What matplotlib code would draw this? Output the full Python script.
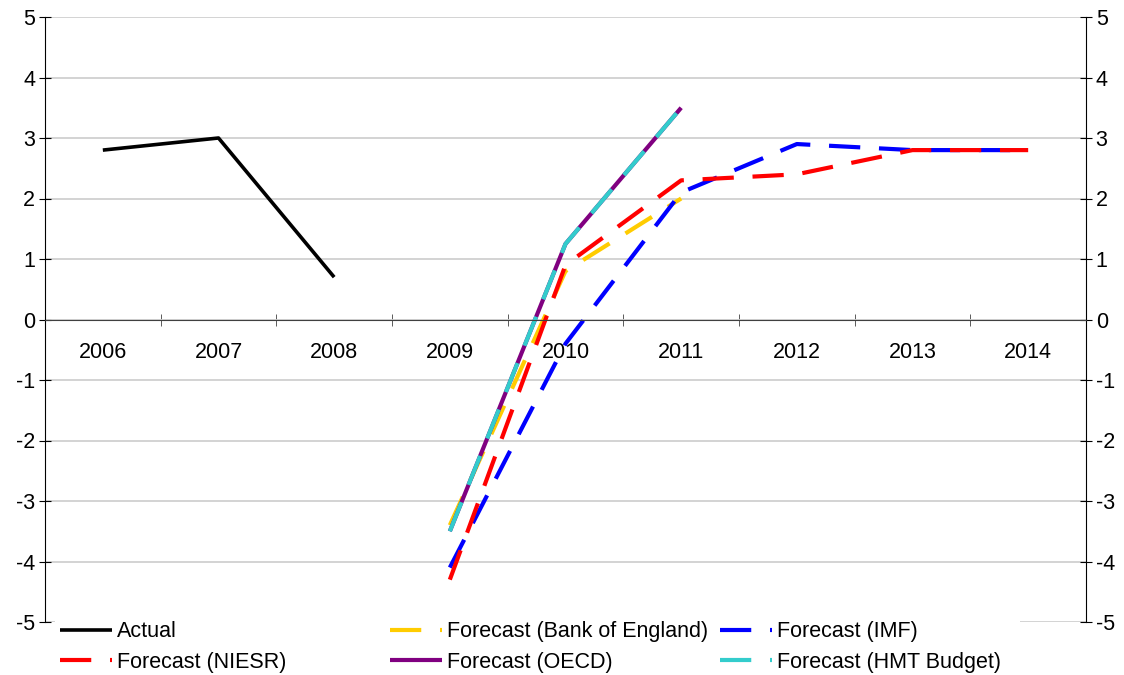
import numpy as np
import matplotlib.pyplot as plt
from matplotlib.patches import Rectangle

plt.rcParams['font.family'] = ['Liberation Sans', 'DejaVu Sans']

# GDP growth, % per year
years = ['2006', '2007', '2008', '2009', '2010', '2011', '2012', '2013', '2014']
actual = [2.8, 3.0, 0.7, None, None, None, None, None, None]
boe = [None, None, None, -3.4, 0.8, 2.0, None, None, None]
imf = [None, None, None, -4.1, -0.4, 2.1, 2.9, 2.8, 2.8]
niesr = [None, None, None, -4.3, 0.9, 2.3, 2.4, 2.8, 2.8]
oecd = [None, None, None, -3.5, 1.25, 3.5, None, None, None]
hmt = [None, None, None, -3.5, 1.25, 3.5, None, None, None]

W, H = 1124, 675
fig = plt.figure(figsize=(W / 100, H / 100), dpi=100)
ax = fig.add_axes([45 / W, 1 - 622 / H, (1086 - 45) / W, (622 - 17) / H])

x = np.arange(len(years)) + 0.5


def series(vals):
    return np.array([np.nan if v is None else v for v in vals], dtype=float)


dash = (7.5, 4.5)
ax.plot(x, series(actual), color='black', lw=2.6, label='Actual',
        solid_capstyle='butt')
ax.plot(x, series(boe), color='#FFCC00', lw=3.0, dashes=dash,
        label='Forecast (Bank of England)')
ax.plot(x, series(imf), color='#0000FF', lw=3.0, dashes=dash,
        label='Forecast (IMF)')
ax.plot(x, series(niesr), color='#FF0000', lw=3.0, dashes=dash,
        label='Forecast (NIESR)')
ax.plot(x, series(oecd), color='#800080', lw=3.0, label='Forecast (OECD)',
        solid_capstyle='butt')
ax.plot(x, series(hmt), color='#33CCCC', lw=3.0, dashes=dash,
        label='Forecast (HMT Budget)')

ax.set_xlim(0, len(years))
ax.set_ylim(-5, 5)
ax.set_yticks(np.arange(-5, 6))
ax.set_yticklabels([str(v) for v in range(-5, 6)])
ax.grid(axis='y', color='#D0D0D0', lw=1.3)
ax.set_axisbelow(True)

ax.spines['top'].set_visible(False)
ax.spines['bottom'].set_position(('data', 0))
ax.spines['bottom'].set_color('#404040')
for s in ('left', 'right'):
    ax.spines[s].set_color('black')

ax.set_xticks(x)
ax.set_xticklabels(years)
ax.set_xticks(np.arange(len(years) + 1), minor=True)
ax.tick_params(axis='x', which='major', length=0, pad=16, labelsize=15.5)
ax.tick_params(axis='x', which='minor', direction='inout', length=9,
               color='#404040')
ax.tick_params(axis='y', direction='inout', length=8, left=True, right=True,
               labelleft=True, labelright=True, labelsize=15.5, pad=3)

# white band behind the legend
fig.add_artist(Rectangle((55 / W, 0), (1020 - 55) / W, (H - 612) / H,
                         transform=fig.transFigure, facecolor='white',
                         edgecolor='none', zorder=2))

handles, labels = ax.get_legend_handles_labels()
cols = [[0, 3], [1, 4], [2, 5]]
col_x = [60, 390, 720]
for idx, cx in zip(cols, col_x):
    leg = fig.legend([handles[i] for i in idx], [labels[i] for i in idx],
                     loc='center left', bbox_to_anchor=(cx / W, 1 - 647 / H),
                     frameon=False, fontsize=15.5, handlelength=2.4,
                     handletextpad=0.25, labelspacing=0.45, borderpad=0,
                     borderaxespad=0)
    leg.set_zorder(3)

fig.savefig('out.png', dpi=100)
